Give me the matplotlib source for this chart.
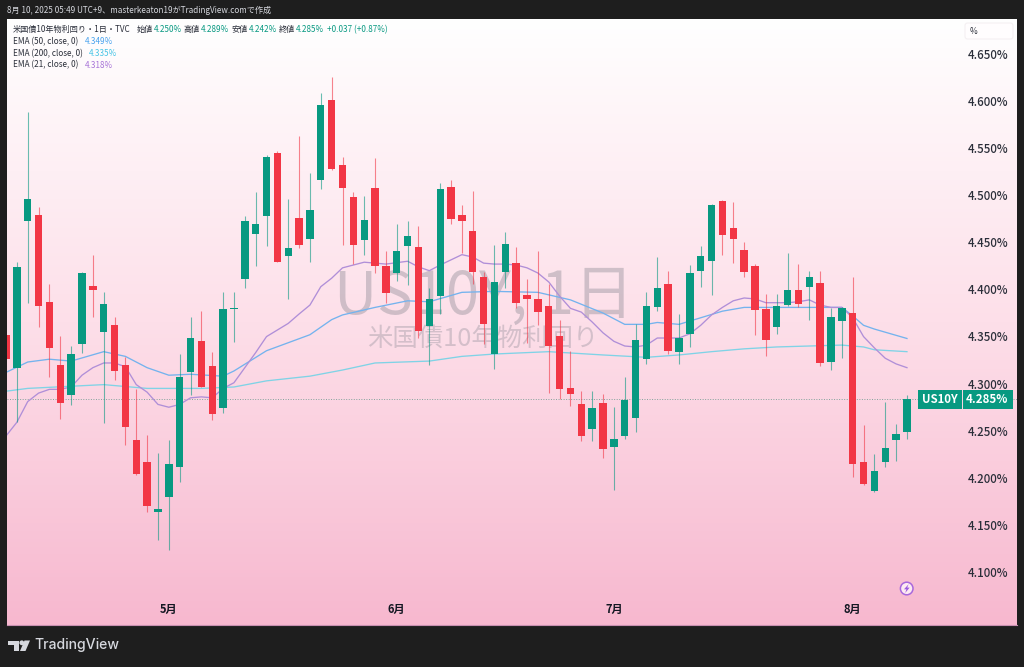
import numpy as np
import matplotlib
matplotlib.use("Agg")
import matplotlib.pyplot as plt
from matplotlib.colors import LinearSegmentedColormap
from matplotlib.patches import Rectangle, Circle, Polygon, FancyBboxPatch
from matplotlib.transforms import IdentityTransform

plt.rcParams['font.family'] = ['Noto Sans CJK JP', 'DejaVu Sans']

opens = [4.353,4.318,4.474,4.480,4.388,4.321,4.289,4.343,4.405,4.356,4.363,4.321,4.241,4.218,4.165,4.181,4.213,4.313,4.346,4.320,4.275,4.380,4.412,4.460,4.479,4.546,4.437,4.477,4.455,4.517,4.602,4.533,4.499,4.454,4.509,4.426,4.418,4.447,4.446,4.362,4.394,4.510,4.480,4.463,4.414,4.332,4.420,4.429,4.395,4.391,4.384,4.352,4.296,4.279,4.253,4.280,4.234,4.245,4.265,4.327,4.382,4.407,4.335,4.354,4.421,4.431,4.495,4.466,4.443,4.426,4.380,4.361,4.385,4.401,4.404,4.408,4.324,4.368,4.376,4.218,4.187,4.218,4.241,4.250]
highs = [4.353,4.430,4.590,4.489,4.407,4.352,4.341,4.420,4.438,4.398,4.372,4.329,4.295,4.247,4.227,4.241,4.333,4.372,4.378,4.335,4.398,4.398,4.479,4.505,4.544,4.548,4.497,4.564,4.525,4.610,4.627,4.542,4.505,4.500,4.541,4.442,4.471,4.474,4.468,4.403,4.514,4.517,4.491,4.506,4.420,4.448,4.462,4.446,4.412,4.442,4.407,4.369,4.336,4.293,4.293,4.290,4.276,4.308,4.364,4.398,4.435,4.421,4.375,4.427,4.447,4.492,4.496,4.494,4.451,4.428,4.396,4.396,4.440,4.428,4.421,4.421,4.381,4.382,4.414,4.257,4.226,4.282,4.258,4.289]
lows = [4.327,4.260,4.387,4.361,4.308,4.264,4.278,4.334,4.372,4.259,4.305,4.236,4.204,4.165,4.135,4.124,4.197,4.289,4.297,4.262,4.270,4.345,4.403,4.426,4.447,4.430,4.391,4.445,4.430,4.508,4.528,4.448,4.428,4.438,4.419,4.387,4.410,4.406,4.350,4.321,4.375,4.471,4.440,4.407,4.343,4.317,4.403,4.381,4.344,4.363,4.291,4.285,4.277,4.240,4.240,4.222,4.188,4.242,4.250,4.322,4.378,4.333,4.322,4.340,4.404,4.395,4.438,4.429,4.414,4.353,4.330,4.354,4.384,4.382,4.369,4.320,4.316,4.328,4.202,4.193,4.186,4.213,4.219,4.242]
closes = [4.327,4.425,4.497,4.384,4.339,4.281,4.333,4.418,4.401,4.386,4.315,4.255,4.205,4.171,4.168,4.216,4.308,4.349,4.298,4.269,4.380,4.381,4.474,4.471,4.542,4.430,4.445,4.448,4.485,4.597,4.529,4.509,4.448,4.475,4.426,4.397,4.442,4.458,4.357,4.391,4.508,4.476,4.474,4.420,4.364,4.409,4.449,4.387,4.391,4.377,4.341,4.295,4.290,4.245,4.275,4.232,4.242,4.284,4.347,4.384,4.403,4.336,4.350,4.418,4.437,4.491,4.459,4.455,4.420,4.379,4.347,4.384,4.401,4.386,4.414,4.323,4.372,4.381,4.216,4.194,4.208,4.233,4.248,4.285]

ema200_idx = [0,2,9,13,18,21,24,28,31,34,39,42,45,50,55,59,62,65,68,71,74,77,79,80,83]
ema200_val = [4.293,4.296,4.300,4.296,4.296,4.2975,4.304,4.309,4.3155,4.323,4.325,4.330,4.3325,4.335,4.3315,4.329,4.3315,4.335,4.338,4.340,4.341,4.342,4.340,4.337,4.335]
ema50_idx = [0,2,4,6,9,11,13,15,17,20,21,24,28,29,30,31,34,37,39,42,45,49,52,55,57,59,60,62,64,66,68,71,74,77,78,79,80,83]
ema50_val = [4.313,4.324,4.327,4.325,4.335,4.330,4.318,4.310,4.311,4.309,4.3145,4.336,4.353,4.361,4.369,4.374,4.382,4.389,4.388,4.398,4.399,4.398,4.390,4.376,4.364,4.364,4.366,4.364,4.371,4.378,4.382,4.382,4.382,4.382,4.373,4.363,4.359,4.349]
ema21_idx = [0,1,2,3,4,5,6,7,8,9,10,11,12,13,14,15,16,17,18,19,20,21,22,23,24,25,26,27,28,29,30,31,33,34,35,37,38,39,40,42,43,44,45,46,47,48,49,50,51,52,53,54,55,56,57,58,59,60,61,62,63,64,65,66,67,68,69,70,71,72,73,74,75,76,77,78,79,80,81,82,83]
ema21_val = [4.2455,4.260,4.282,4.291,4.295,4.295,4.2975,4.310,4.318,4.323,4.323,4.319,4.300,4.292,4.279,4.276,4.279,4.286,4.287,4.286,4.296,4.302,4.318,4.334,4.351,4.358,4.365,4.375,4.3845,4.404,4.413,4.424,4.430,4.429,4.428,4.431,4.425,4.421,4.427,4.438,4.4355,4.429,4.428,4.428,4.427,4.424,4.4185,4.409,4.394,4.381,4.377,4.3665,4.355,4.346,4.341,4.340,4.342,4.3495,4.3495,4.3495,4.354,4.363,4.374,4.382,4.389,4.392,4.391,4.387,4.387,4.387,4.388,4.390,4.3845,4.382,4.382,4.371,4.351,4.339,4.328,4.322,4.318]

month_pos = [15, 36, 56, 78]
month_lab = ['5月', '6月', '7月', '8月']
price_ticks = [4.65,4.60,4.55,4.50,4.45,4.40,4.35,4.30,4.25,4.20,4.15,4.10]

W, H = 1024, 667
UP, DN = '#089981', '#f23645'
fig = plt.figure(figsize=(W/100, H/100), dpi=100, facecolor='#1e1e1e')
L, R, T, B = 7, 1017, 19, 625
ax = fig.add_axes([L/W, 1-B/H, (R-L)/W, (B-T)/H])
x0, x1 = (L-6)/10.855, (R-6)/10.855
y0, y1 = 4.7084-0.0010618*B, 4.7084-0.0010618*T
ax.set_xlim(x0, x1)
ax.set_ylim(y0, y1)
for s in ax.spines.values():
    s.set_visible(False)
ax.spines['bottom'].set_visible(True)
ax.spines['bottom'].set_color('#c78fb0')
ax.spines['bottom'].set_linewidth(0.8)
ax.set_xticks([]); ax.set_yticks([])

def px(x): return (x-6)/10.855
def py(y): return 4.7084-0.0010618*y

cmap = LinearSegmentedColormap.from_list('bg', ['#ffffff', '#fddfe9', '#f7b8cf'])
ax.imshow(np.linspace(0, 1, 256).reshape(-1, 1), cmap=cmap, aspect='auto', zorder=0,
          extent=[x0, x1, y0, y1], origin='upper')

# watermark
ax.text(px(484), py(297), 'US10Y, 1日', fontsize=43, color='#84848f', alpha=0.38,
        ha='center', va='center', zorder=1)
ax.text(px(483), py(339), '米国債10年物利回り', fontsize=18.3, color='#84848f', alpha=0.33,
        ha='center', va='center', zorder=1)

# last price line
ax.axhline(closes[-1], color='#6f9a90', lw=0.7, ls=(0, (1, 1.6)), alpha=0.85, zorder=1.5)

# EMAs
ax.plot(ema200_idx, ema200_val, color='#7fd3e6', lw=0.95, zorder=2)
ax.plot(ema50_idx, ema50_val, color='#74b3ee', lw=0.95, zorder=2)
ax.plot(ema21_idx, ema21_val, color='#b08fd8', lw=0.95, zorder=2)

# candles
idx = np.arange(len(opens))
o, h, l, c = map(np.array, (opens, highs, lows, closes))
cols = np.where(c >= o, UP, DN)
ax.vlines(idx, l, h, colors=cols, lw=0.8, alpha=0.6, zorder=3)
ax.bar(idx, np.maximum(np.abs(c-o), 0.0015), bottom=np.minimum(o, c), width=0.68, color=cols, zorder=4, lw=0)

# axis labels
for p in price_ticks:
    ax.text(px(1008), p-0.0004, f'{p:.3f}%', fontsize=8.3, color='#2a2e39', ha='right', va='center',
            fontweight='medium', zorder=5)
for xi, lab in zip(month_pos, month_lab):
    ax.text(xi, py(609), lab, fontsize=8, color='#131722', ha='center', va='center', fontweight='bold', zorder=5)

# pixel-placed furniture
pix = IdentityTransform()
def P(x, y): return (x, H-y)
def poly(pts, c, **k):
    fig.add_artist(Polygon([P(*q) for q in pts], closed=True, fc=c, lw=0, transform=pix, **k))

fig.add_artist(FancyBboxPatch(P(965, 39), 48, 16, boxstyle='round,pad=0,rounding_size=2.5', fc='#fffdfe', ec='#f3eef1',
                              lw=0.7, transform=pix))
fig.add_artist(Rectangle(P(918, 409), 43.5, 19, fc=UP, lw=0, transform=pix))
fig.add_artist(Rectangle(P(962.5, 409), 50.5, 19, fc=UP, lw=0, transform=pix))
fig.add_artist(Circle(P(906.7, 588.5), 6.3, fc='#fdeaf2', ec='#a868dc', lw=1.1, transform=pix))
poly([(908.6,584.2),(904,589.3),(906.4,589.3),(905.2,593),(909.6,587.6),(907.2,587.6)], '#9c5be0')

def ft(x, y, s, **k):
    k.setdefault('fontsize', 5.85); k.setdefault('color', '#2a2e39')
    return fig.text(x/W, 1-y/H, s, va='center', ha=k.pop('ha', 'left'), **k)

ft(973, 31, '%', fontsize=6, ha='center')
ft(939.5, 399.3, 'US10Y', fontsize=8.2, color='white', ha='center', fontweight='bold')
ft(1008, 399.3, '4.285%', fontsize=8.3, color='white', ha='right', fontweight='bold')

ft(7, 10.3, '8月 10, 2025 05:49 UTC+9、masterkeaton19がTradingView.comで作成', color='#d6d8de', fontsize=5.85)
ft(13, 29.5, '米国債10年物利回り・1日・TVC')
for x, a, b in [(137, '始値', '4.250%'), (184, '高値', '4.289%'), (232, '安値', '4.242%'), (279, '終値', '4.285%')]:
    ft(x, 29.5, a)
    ft(x+17, 29.5, b, color=UP)
ft(327, 29.5, '+0.037 (+0.87%)', color=UP)
ft(13, 41.5, 'EMA (50, close, 0)'); ft(85, 41.5, '4.349%', color='#4aa3ee')
ft(13, 53.5, 'EMA (200, close, 0)'); ft(89, 53.5, '4.335%', color='#45c4e6')
ft(13, 65, 'EMA (21, close, 0)'); ft(85, 65, '4.318%', color='#a874d8')

# logo
ft(34.5, 645.5, 'TradingView', color='#d6d8de', fontsize=10.1, family=['Inter'], fontweight='medium')
poly([(8,640.5),(19,640.5),(19,651),(13.8,651),(13.8,645.3),(8,645.3)], '#d6d8de')
poly([(24.5,640.5),(30,640.5),(25.5,651),(20,651)], '#d6d8de')
fig.add_artist(Circle(P(21.8, 642.8), 2.4, fc='#d6d8de', lw=0, transform=pix))

fig.savefig('out.png', dpi=100, facecolor=fig.get_facecolor())
